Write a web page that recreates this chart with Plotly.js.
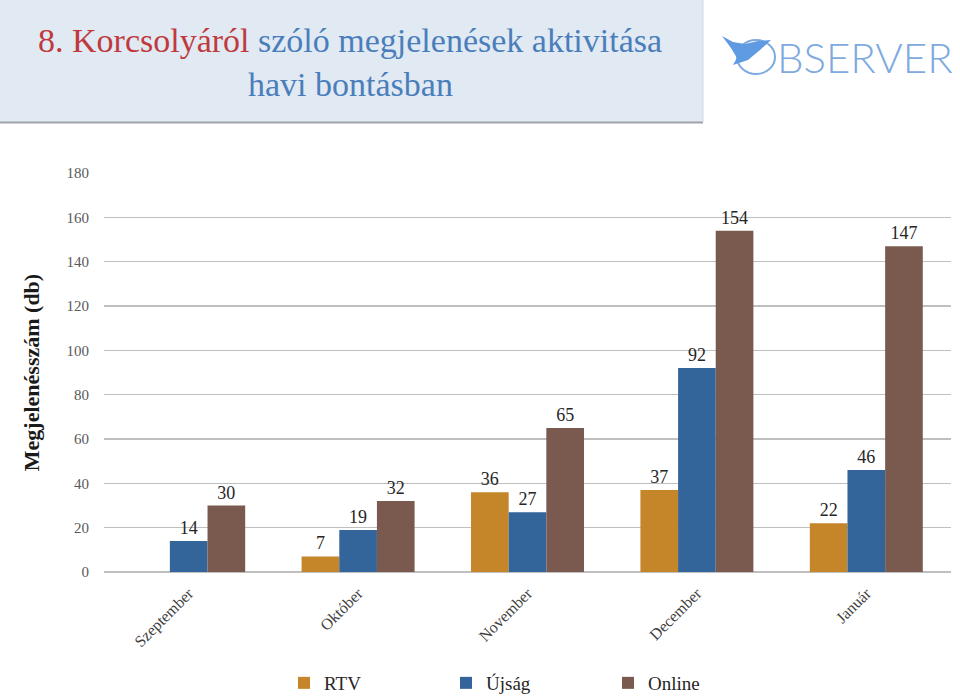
<!DOCTYPE html>
<html>
<head>
<meta charset="utf-8">
<script src="https://cdn.plot.ly/plotly-3.0.1.min.js"></script>
<style>
  html, body { margin: 0; padding: 0; background: #ffffff; }
  #chart { width: 960px; height: 696px; }
</style>
</head>
<body>
<div id="chart"></div>
<script>
// ---- data ----
const months = ["Szeptember", "Október", "November", "December", "Január"];
const rtv    = [null, 7, 36, 37, 22];
const ujsag  = [14, 19, 27, 92, 46];
const online = [30, 32, 65, 154, 147];
const seriesNames = ["RTV", "Újság", "Online"];
const yTicks = [0, 20, 40, 60, 80, 100, 120, 140, 160, 180];

// ---- layout helpers (pixel -> paper) ----
const W = 960, H = 696;
const M = { l: 104, r: 9, t: 173, b: 124, autoexpand: false };
const pw = W - M.l - M.r, ph = H - M.t - M.b;
const px = x => (x - M.l) / pw;
const py = y => (H - M.b - y) / ph;

const serif = "Liberation Serif";
const colors = ["#C5862A", "#33659A", "#7A5A4E"];
const vals = [rtv, ujsag, online];

const traces = vals.map((v, i) => ({
  type: "bar",
  name: seriesNames[i],
  x: months,
  y: v,
  marker: { color: colors[i] },
  text: v.map(d => d === null ? "" : String(d)),
  textposition: "outside",
  cliponaxis: false,
  textfont: { family: serif, size: 18, color: "#262626" },
  hoverinfo: "x+y+name"
}));

const layout = {
  width: W, height: H,
  margin: M,
  paper_bgcolor: "#ffffff",
  plot_bgcolor: "#ffffff",
  font: { family: serif },
  barmode: "group",
  bargap: 0.333,
  bargroupgap: 0,
  showlegend: true,
  legend: {
    orientation: "h",
    x: px(284), xanchor: "left",
    y: py(683), yanchor: "middle",
    entrywidth: 117,
    entrywidthmode: "pixels",
    font: { family: serif, size: 19, color: "#262626" },
    bgcolor: "rgba(0,0,0,0)"
  },
  xaxis: {
    type: "category",
    tickangle: -45,
    tickfont: { family: serif, size: 16, color: "#404040" },
    ticklabelstandoff: 8,
    showgrid: false,
    showline: false,
    zeroline: false,
    ticks: ""
  },
  yaxis: {
    range: [0, 180],
    tickvals: yTicks,
    ticktext: yTicks.map(String),
    tickfont: { family: serif, size: 15, color: "#595959" },
    ticklabelstandoff: 14,
    showgrid: true,
    gridcolor: "#BFBFBF",
    gridwidth: 1.3,
    zeroline: true,
    zerolinecolor: "#BFBFBF",
    zerolinewidth: 1.3,
    showline: false,
    title: {
      text: "<b>Megjelenésszám (db)</b>",
      font: { family: serif, size: 22, color: "#1a1a1a" },
      standoff: 20
    }
  },
  shapes: [
    // title box
    { type: "rect", xref: "paper", yref: "paper", layer: "below",
      x0: px(0), x1: px(703), y0: py(122), y1: py(0),
      fillcolor: "#E1E9F3", line: { width: 0 } },
    { type: "line", xref: "paper", yref: "paper",
      x0: px(0), x1: px(703), y0: py(122.5), y1: py(122.5),
      line: { color: "#A0A4AA", width: 2 } },
    { type: "line", xref: "paper", yref: "paper",
      x0: px(703), x1: px(703), y0: py(122), y1: py(0),
      line: { color: "#D3D8DE", width: 1 } },
    // logo "O"
    { type: "circle", xref: "paper", yref: "paper",
      x0: px(737), x1: px(775), y0: py(74), y1: py(40),
      line: { color: "#7EAADF", width: 2 } },
    // logo bird
    { type: "path", xref: "paper", yref: "paper",
      path: "M " + px(722) + " " + py(36) +
            " L " + px(733) + " " + py(42) +
            " L " + px(745) + " " + py(44) +
            " L " + px(758) + " " + py(41) +
            " L " + px(771) + " " + py(40) +
            " L " + px(760) + " " + py(50) +
            " L " + px(748) + " " + py(60) +
            " L " + px(733) + " " + py(65) +
            " L " + px(737) + " " + py(58) +
            " L " + px(731) + " " + py(48) + " Z",
      fillcolor: "#5E9BE2", line: { width: 0 } }
  ],
  annotations: [
    { xref: "paper", yref: "paper", x: px(350), y: py(40), xanchor: "center", yanchor: "middle",
      showarrow: false,
      text: "<span style='color:#C0393D'>8. Korcsolyáról</span> <span style='color:#4A7EBB'>szóló megjelenések aktivitása</span>",
      font: { family: serif, size: 34, color: "#4A7EBB" } },
    { xref: "paper", yref: "paper", x: px(350), y: py(84), xanchor: "center", yanchor: "middle",
      showarrow: false,
      text: "havi bontásban",
      font: { family: serif, size: 34, color: "#4A7EBB" } },
    { xref: "paper", yref: "paper", x: px(775), y: py(57), xanchor: "left", yanchor: "middle",
      showarrow: false,
      text: "BSERVER",
      font: { family: "Lato", weight: 300, size: 42, color: "#7EAADF" } }
  ]
};

Plotly.newPlot("chart", traces, layout, { displayModeBar: false, staticPlot: true });
</script>
</body>
</html>
